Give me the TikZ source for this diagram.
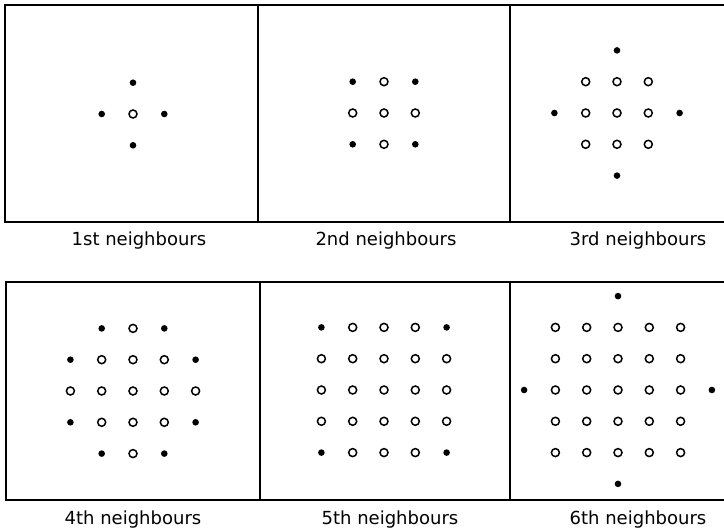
\documentclass[tikz,border=0pt]{standalone}
\usepackage{fontspec}
\setmainfont{DejaVu Sans}
\begin{document}
\begin{tikzpicture}[x=1pt,y=-1pt,
  frame/.style={line width=1.9pt},
  opendot/.style={line width=1.5pt},
  lbl/.style={anchor=base,inner sep=0pt,font=\fontsize{18}{21}\selectfont}]
\useasboundingbox[fill=white] (0,0) rectangle (724,532);
\newcommand{\latpanel}[3]{%
  \foreach \i in {-3,...,3}{%
    \foreach \j in {-3,...,3}{%
      \pgfmathtruncatemacro{\rr}{\i*\i+\j*\j}%
      \ifnum\rr<#3\relax
        \draw[opendot] (#1+\i*31.3,#2+\j*31.3) circle[radius=4pt];
      \else\ifnum\rr=#3\relax
        \fill (#1+\i*31.3,#2+\j*31.3) circle[radius=3.3pt];
      \fi\fi
    }}}
\begin{scope}
\clip (0,0) rectangle (724,532);
\draw[frame] (5,5) rectangle (258,222);
\draw[frame] (258,5) -- (740,5) (258,222) -- (740,222) (510,5) -- (510,222);
\draw[frame] (6,282) rectangle (260,500);
\draw[frame] (260,282) -- (740,282) (260,500) -- (740,500) (510,282) -- (510,500);
\end{scope}
\latpanel{133}{114}{1}
\latpanel{384}{113}{2}
\latpanel{617}{113}{4}
\latpanel{133}{391}{5}
\latpanel{384}{390}{8}
\latpanel{618}{390}{9}
\node[lbl] (l1) at (139,246) {1st neighbours};
\node[lbl] (l2) at (386,246) {2nd neighbours};
\node[lbl] (l3) at (638,246) {3rd neighbours};
\node[lbl] (l4) at (133,524) {4th neighbours};
\node[lbl] (l5) at (390,524) {5th neighbours};
\node[lbl] (l6) at (638,524) {6th neighbours};
\end{tikzpicture}
\end{document}
